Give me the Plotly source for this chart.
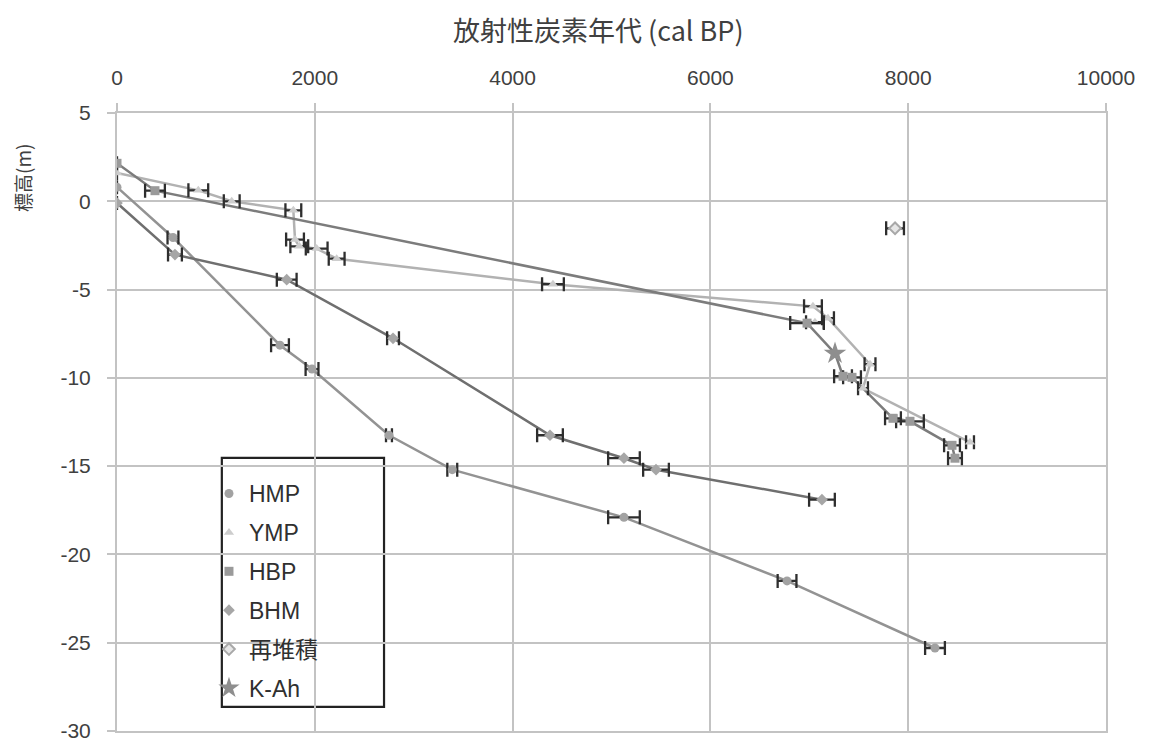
import plotly.graph_objects as go

# ---------------- data ----------------
# HMP (circles)
hmp_x = [0, 566, 1648, 1972, 2750, 3390, 5126, 6775, 8271]
hmp_y = [0.8, -2.05, -8.15, -9.5, -13.25, -15.2, -17.9, -21.5, -25.3]
hmp_err = [None, 55, 90, 65, 30, 50, 160, 95, 100]

# YMP (triangles)
ymp_x = [0, 822, 1160, 1783, 1800, 1843, 2019, 2221, 4408, 7037, 7057, 7189, 7614, 7543, 8625]
ymp_y = [1.6, 0.62, 0.0, -0.51, -2.17, -2.55, -2.68, -3.25, -4.7, -5.95, -6.85, -6.62, -9.23, -10.59, -13.65]
ymp_err = [None, 100, 80, 80, 90, 90, 110, 80, 110, 90, 90, 60, 55, 50, 40]

# HBP (squares)
hbp_x = [0, 384, 6977, 7341, 7432, 7846, 8018, 8443, 8473]
hbp_y = [2.15, 0.6, -6.9, -9.91, -9.97, -12.29, -12.46, -13.82, -14.55]
hbp_err = [None, 100, 170, 90, 90, 80, 140, 80, 70]

# BHM (diamonds)
bhm_x = [0, 586, 1716, 2791, 4378, 5126, 5450, 7128]
bhm_y = [-0.1, -3.02, -4.44, -7.76, -13.25, -14.55, -15.2, -16.9]
bhm_err = [None, 70, 100, 60, 130, 160, 130, 130]

# 再堆積 (reworked)
rew_x = [7867]
rew_y = [-1.53]
rew_err = [90]

# K-Ah tephra
kah_x = [7260]
kah_y = [-8.61]

# connecting lines
line_hmp_x = hmp_x
line_hmp_y = hmp_y
line_bhm_x = bhm_x
line_bhm_y = bhm_y
line_ymp_x = [0, 822, 1160, 1783, 1800, 1843, 2019, 2221, 4408, 7037, 7189, 7614, 7543, 8625]
line_ymp_y = [1.6, 0.62, 0.0, -0.51, -2.17, -2.55, -2.68, -3.25, -4.7, -5.95, -6.62, -9.23, -10.59, -13.65]
line_hbp_x = [0, 384, 6977, 7260, 7341, 7432, 7543, 7846, 8018, 8443, 8473]
line_hbp_y = [2.15, 0.6, -6.9, -8.61, -9.91, -9.97, -10.59, -12.29, -12.46, -13.82, -14.55]

x_ticks = [0, 2000, 4000, 6000, 8000, 10000]
y_ticks = [5, 0, -5, -10, -15, -20, -25, -30]

FONT = "Liberation Sans, Arial, sans-serif"
CJK = "Noto Sans CJK JP, Liberation Sans, sans-serif"
LEG = "Liberation Sans, Noto Sans CJK JP, sans-serif"
TXT = "#404040"
GRID = "#c3c3c3"

fig = go.Figure()

# lines (no legend)
for lx, ly, col in [
    (line_ymp_x, line_ymp_y, "#b2b2b2"),
    (line_hbp_x, line_hbp_y, "#7c7c7c"),
    (line_hmp_x, line_hmp_y, "#939393"),
    (line_bhm_x, line_bhm_y, "#6f6f6f"),
]:
    fig.add_trace(go.Scatter(x=lx, y=ly, mode="lines", showlegend=False,
                             line=dict(color=col, width=2.5), hoverinfo="skip"))

ebar = dict(type="data", visible=True, color="#2e2e2e", thickness=2.3, width=7)

def pts(name, x, y, err, symbol, color, size, group, line=None):
    e = dict(ebar, array=err) if err is not None else dict(visible=False)
    m = dict(symbol=symbol, color=color, size=size)
    if line:
        m["line"] = line
    return go.Scatter(x=x, y=y, mode="markers", name=name, error_x=e, marker=m,
                      legendgroup=group)

fig.add_trace(pts("HMP", hmp_x, hmp_y, hmp_err, "circle", "#a2a2a2", 9, "g1"))
fig.add_trace(pts("YMP", ymp_x, ymp_y, ymp_err, "triangle-up", "#cdcdcd", 9, "g2"))
fig.add_trace(pts("HBP", hbp_x, hbp_y, hbp_err, "square", "#9a9a9a", 9, "g3"))
fig.add_trace(pts("BHM", bhm_x, bhm_y, bhm_err, "diamond", "#a6a6a6", 9, "g4"))
fig.add_trace(pts("再堆積", rew_x, rew_y, rew_err, "diamond", "#e6e6e6", 9, "g5",
                  line=dict(color="#a8a8a8", width=2)))
fig.add_trace(pts("K-Ah", kah_x, kah_y, None, "star", "#8e8e8e", 17, "g6"))

# legend frame
fig.add_shape(type="rect", xref="paper", yref="paper",
              x0=0.106, x1=0.270, y0=0.039, y1=0.442,
              line=dict(color="#222222", width=2.2), fillcolor="white", layer="below")

fig.update_layout(
    width=1143, height=742,
    margin=dict(l=109, r=45, t=105, b=19, autoexpand=False),
    paper_bgcolor="white", plot_bgcolor="rgba(0,0,0,0)",
    font=dict(family=FONT, size=21, color=TXT),
    showlegend=True,
    legend=dict(x=0.093, y=0.419, xanchor="left", yanchor="top",
                bgcolor="rgba(0,0,0,0)", borderwidth=0,
                font=dict(family=LEG, size=23, color="#303030"),
                tracegroupgap=6, itemwidth=30),
    xaxis=dict(side="top", range=[0, 10000], tickvals=x_ticks,
               ticktext=[str(v) for v in x_ticks],
               showgrid=True, gridcolor=GRID, gridwidth=2,
               showline=True, linecolor=GRID, linewidth=2, mirror=True,
               ticks="outside", ticklen=8, tickwidth=2, tickcolor=GRID,
               ticklabelstandoff=10, ticklabeloverflow="allow",
               zeroline=False, tickfont=dict(family=FONT, size=21, color=TXT)),
    yaxis=dict(range=[-30, 5], tickvals=y_ticks,
               ticktext=[str(v) for v in y_ticks],
               showgrid=True, gridcolor=GRID, gridwidth=2,
               showline=True, linecolor=GRID, linewidth=2, mirror=True,
               ticks="outside", ticklen=8, tickwidth=2, tickcolor=GRID,
               ticklabelstandoff=12, ticklabeloverflow="allow",
               zeroline=False, tickfont=dict(family=FONT, size=21, color=TXT)),
    annotations=[
        dict(text="放射性炭素年代 (cal BP)", xref="paper", yref="paper",
             x=(598 - 117) / 989, y=(731 - 30) / 618, xanchor="center", yanchor="middle",
             showarrow=False, font=dict(family=CJK, size=27, color=TXT)),
        dict(text="標高(m)", xref="paper", yref="paper",
             x=(22 - 117) / 989, y=(731 - 178) / 618, xanchor="center", yanchor="middle",
             textangle=-90, showarrow=False, font=dict(family=CJK, size=19, color=TXT)),
    ],
)

fig.write_html("out.html")
